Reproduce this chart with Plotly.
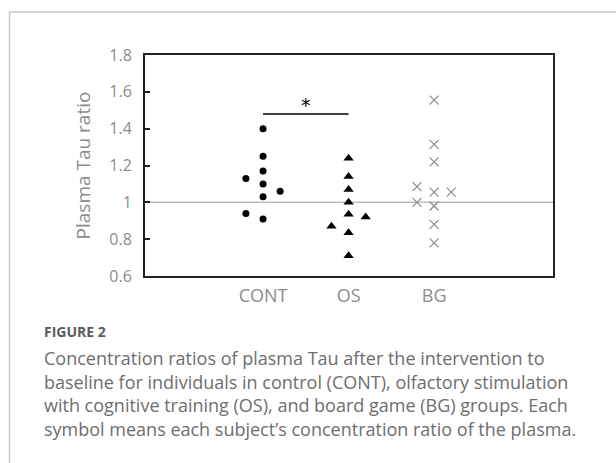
import plotly.graph_objects as go

# ---- data ----
categories = ["CONT", "OS", "BG"]
cont_x = [1, 1, 1, 1, 1, 1, 0.8, 0.8, 1.2]
cont_y = [1.40, 1.25, 1.17, 1.10, 1.03, 0.91, 1.13, 0.94, 1.06]
os_x = [2, 2, 2, 2, 2, 2, 2, 1.8, 2.2]
os_y = [1.24, 1.14, 1.07, 1.00, 0.935, 0.835, 0.71, 0.87, 0.92]
bg_x = [3, 3, 3, 3, 3, 3, 3, 2.8, 2.8, 3.2]
bg_y = [1.555, 1.315, 1.22, 1.055, 0.98, 0.88, 0.78, 1.085, 1.00, 1.055]
y_ticks = [0.6, 0.8, 1.0, 1.2, 1.4, 1.6, 1.8]
y_ticktext = ["0.6", "0.8", "1", "1.2", "1.4", "1.6", "1.8"]
baseline = 1.0
sig_from, sig_to, sig_y = 1, 2, 1.48

caption_title = "FIGURE 2"
caption_lines = [
    "Concentration ratios of plasma Tau after the intervention to",
    "baseline for individuals in control (CONT), olfactory stimulation",
    "with cognitive training (OS), and board game (BG) groups. Each",
    "symbol means each subject\u2019s concentration ratio of the plasma.",
]

W, H = 616, 463
L, R, T, B = 145, 63, 55, 187
pw, ph = W - L - R, H - T - B


def px(x):
    return (x - L) / pw


def py(y):
    return (H - B - y) / ph


fig = go.Figure()
fig.add_trace(go.Scatter(x=cont_x, y=cont_y, mode="markers",
                         marker=dict(symbol="circle", size=7, color="black"),
                         showlegend=False))
fig.add_trace(go.Scatter(x=os_x, y=os_y, mode="markers",
                         marker=dict(symbol="triangle-up", size=9, color="black"),
                         showlegend=False))
fig.add_trace(go.Scatter(x=bg_x, y=bg_y, mode="markers",
                         marker=dict(symbol="x-thin-open", size=9, color="#8a8a8a",
                                     line=dict(color="#8a8a8a", width=1.2)),
                         showlegend=False))

grey = "#8c8c8c"
tick_font = "Open Sans, DejaVu Sans, sans-serif"
fig.update_layout(
    width=W, height=H,
    margin=dict(l=L, r=R, t=T, b=B),
    paper_bgcolor="white", plot_bgcolor="white",
    font=dict(family=tick_font, color=grey),
    xaxis=dict(range=[-0.38, 4.39], tickvals=[1, 2, 3], ticktext=categories,
               showgrid=False, zeroline=False, ticks="",
               showline=True, mirror=True, linecolor="#222", linewidth=2,
               tickfont=dict(size=18, color=grey), ticklabelstandoff=2),
    yaxis=dict(range=[0.6, 1.8], tickvals=y_ticks, ticktext=y_ticktext,
               showgrid=False, zeroline=False, ticks="inside", ticklen=5,
               tickcolor="#222", tickwidth=1.5,
               showline=True, mirror=True, linecolor="#222", linewidth=2,
               tickfont=dict(size=16, color=grey), ticklabelstandoff=8,
               title=dict(text="Plasma Tau ratio", font=dict(size=19, color=grey),
                          standoff=14)),
)

# baseline
fig.add_shape(type="line", xref="paper", yref="y", x0=0, x1=1, y0=baseline, y1=baseline,
              line=dict(color="#bdbdbd", width=1.5), layer="below")
# significance bar
fig.add_shape(type="line", xref="x", yref="y", x0=sig_from, x1=sig_to, y0=sig_y, y1=sig_y,
              line=dict(color="black", width=1.5))
fig.add_annotation(x=(sig_from + sig_to) / 2, y=sig_y, yshift=9, text="*", showarrow=False,
                   font=dict(size=19, color="black", family="DejaVu Sans"), xref="x", yref="y")

# card border
fig.add_shape(type="line", xref="paper", yref="paper", x0=px(9.5), x1=px(9.5),
              y0=py(470), y1=py(12), line=dict(color="#c8c8c8", width=1.5))
fig.add_shape(type="line", xref="paper", yref="paper", x0=px(9.5), x1=px(620),
              y0=py(12), y1=py(12), line=dict(color="#c8c8c8", width=1.5))

# caption
fig.add_annotation(xref="paper", yref="paper", x=px(42), y=py(331), xanchor="left",
                   yanchor="middle", text="<b>" + caption_title + "</b>", showarrow=False,
                   font=dict(size=14, color="#5a5a5a", family="Open Sans, sans-serif"))
for i, line in enumerate(caption_lines):
    fig.add_annotation(xref="paper", yref="paper", x=px(42), y=py(358 + i * 23.7),
                       xanchor="left", yanchor="middle", text=line, showarrow=False,
                       font=dict(size=18, color="#6e6e6e", family="Open Sans, sans-serif"))

fig.write_html("out.html", config={"displayModeBar": False},
               post_script="document.body.style.margin='0';")
